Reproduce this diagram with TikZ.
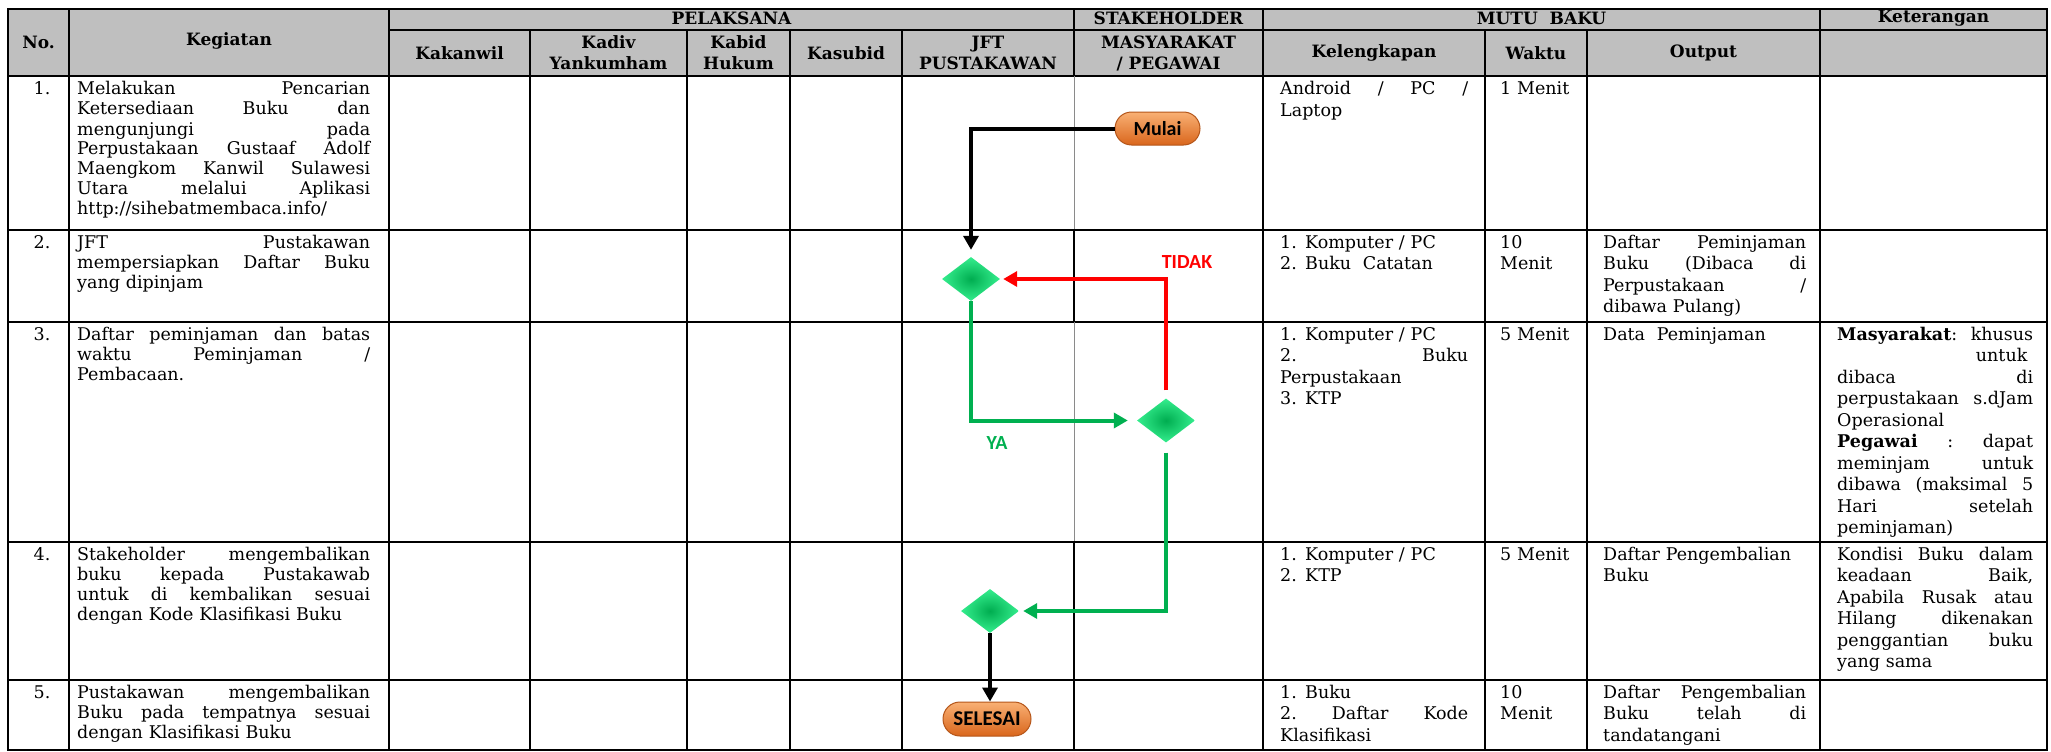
\documentclass[tikz,border=0pt]{standalone}
\usepackage{fontspec}
\setmainfont{DejaVu Serif}
\newfontfamily\flowfont{Carlito}
\usetikzlibrary{shapes.geometric,shapes.misc,arrows.meta}
\definecolor{hdrgray}{HTML}{BFBFBF}
\definecolor{flowgreen}{HTML}{00B050}
\definecolor{flowred}{HTML}{FF0000}
\definecolor{pilltop}{HTML}{F9B074}
\definecolor{pillbot}{HTML}{D9661C}
\definecolor{pillline}{HTML}{B5561A}
\definecolor{dmdin}{HTML}{00AD50}
\definecolor{dmdout}{HTML}{35EE8E}
\definecolor{thingray}{HTML}{8A8A8A}
\newcommand{\J}[1]{\makebox[\linewidth][s]{\spaceskip=0.3333em plus 1fil\xspaceskip=0.3333em plus 1fil\relax #1}}
\newcommand{\R}[1]{\makebox[\linewidth][r]{#1}}
\newcommand{\LN}[1]{\makebox[25pt][l]{#1}}
\begin{document}
\begin{tikzpicture}[x=1pt,y=-1pt,
  tbl/.style={line width=2.2pt,line cap=rect},
  thinl/.style={line width=0.9pt,draw=thingray},
  hdr/.style={font=\fontsize{17}{21}\selectfont\bfseries,align=center,inner sep=0pt},
  body/.style={font=\fontsize{17.5}{21.5}\selectfont,align=left,inner sep=0pt,anchor=base west},
  keg/.style={body,font=\fontsize{17.5}{20}\selectfont,text width=293pt},
  kel/.style={body,text width=188pt},
  wak/.style={body,text width=80pt},
  outp/.style={body,text width=203pt},
  ket/.style={body,text width=196pt},
  num/.style={font=\fontsize{17.5}{21}\selectfont,inner sep=0pt,anchor=base},
  pill/.style={rounded rectangle,draw=pillline,line width=1pt,top color=pilltop,bottom color=pillbot,inner sep=0pt,text=black,font=\flowfont\bfseries\fontsize{20}{20}\selectfont},
  dmd/.style={diamond,minimum width=58pt,minimum height=44pt,inner sep=0pt,shading=radial,inner color=dmdin,outer color=dmdout},
  flow/.style={line width=4pt,-{Triangle[length=14pt,width=15pt]}},
  lbl/.style={font=\flowfont\bfseries\fontsize{20}{20}\selectfont,inner sep=0pt}
]
\useasboundingbox (0,0) rectangle (2051,752);
\fill[white] (0,0) rectangle (2051,752);
\fill[hdrgray] (8,9) rectangle (2047,76);
% table lines
\foreach \y in {9,76,230,322,542,680,750} \draw[tbl] (8,\y) -- (2047,\y);
\draw[tbl] (389,30) -- (2047,30);
\foreach \x in {8,69,389,1263,1820,2047} \draw[tbl] (\x,9) -- (\x,750);
\foreach \x in {530,687,790,902,1485,1587} \draw[tbl] (\x,30) -- (\x,750);
\draw[tbl] (1074,9) -- (1074,76);
\draw[thinl] (1074,76) -- (1074,230);
\draw[tbl] (1074,230) -- (1074,322);
\draw[thinl] (1074,322) -- (1074,542);
\draw[tbl] (1074,542) -- (1074,750);
% header
\node[hdr] (hno) at (38.5,42) {No.};
\node[hdr] (hkeg) at (229,41) {Kegiatan};
\node[hdr] (hpel) at (731.5,18) {PELAKSANA};
\node[hdr] (hstk) at (1168.5,18) {STAKEHOLDER};
\node[hdr] (hmutu) at (1541.5,18) {MUTU\ \ BAKU};
\node[hdr] (hket) at (1933.5,18) {Keterangan};
\node[hdr] (hkak) at (459.5,53) {Kakanwil};
\node[hdr] (hkad) at (608.5,53) {Kadiv\\Yankumham};
\node[hdr] (hkab) at (738.5,53) {Kabid\\Hukum};
\node[hdr] (hkas) at (846,53) {Kasubid};
\node[hdr] (hjft) at (988,53) {JFT\\PUSTAKAWAN};
\node[hdr] (hmas) at (1168.5,53) {MASYARAKAT\\/ PEGAWAI};
\node[hdr] (hkel) at (1374,53) {Kelengkapan};
\node[hdr] (hwak) at (1536,53) {Waktu};
\node[hdr] (hout) at (1703.5,53) {Output};
% row 1
\node[num] (n1) at (42,95) {1.};
\node[keg] (k1) at (77,95) {\J{Melakukan Pencarian}\\\J{Ketersediaan Buku dan}\\\J{mengunjungi pada}\\\J{Perpustakaan Gustaaf Adolf}\\\J{Maengkom Kanwil Sulawesi}\\\J{Utara melalui Aplikasi}\\http://sihebatmembaca.info/};
\node[kel] (l1) at (1280,95) {\J{Android / PC /}\\Laptop};
\node[wak] (w1) at (1500,95) {1 Menit};
% row 2
\node[num] (n2) at (42,248) {2.};
\node[keg] (k2) at (77,248) {\J{JFT Pustakawan}\\\J{mempersiapkan Daftar Buku}\\yang dipinjam};
\node[kel] (l2) at (1280,248) {\LN{1.}Komputer / PC\\\LN{2.}Buku\ \ Catatan};
\node[wak] (w2) at (1500,248) {10\\Menit};
\node[outp] (o2) at (1603,248) {\J{Daftar Peminjaman}\\\J{Buku (Dibaca di}\\\J{Perpustakaan /}\\dibawa Pulang)};
% row 3
\node[num] (n3) at (42,340) {3.};
\node[keg] (k3) at (77,340) {\J{Daftar peminjaman dan batas}\\\J{waktu Peminjaman /}\\Pembacaan.};
\node[kel] (l3) at (1280,340) {\LN{1.}Komputer / PC\\\J{2. Buku}\\Perpustakaan\\\LN{3.}KTP};
\node[wak] (w3) at (1500,340) {5 Menit};
\node[outp] (o3) at (1603,340) {Data\ \ Peminjaman};
\node[ket] (t3) at (1837,340) {\J{\textbf{Masyarakat}: khusus}\\\R{untuk\ }\\\J{dibaca di}\\\J{perpustakaan s.dJam}\\Operasional\\\J{\textbf{Pegawai} : dapat}\\\J{meminjam untuk}\\\J{dibawa (maksimal 5}\\\J{Hari setelah}\\peminjaman)};
% row 4
\node[num] (n4) at (42,560) {4.};
\node[keg] (k4) at (77,560) {\J{Stakeholder mengembalikan}\\\J{buku kepada Pustakawab}\\\J{untuk di kembalikan sesuai}\\dengan Kode Klasifikasi Buku};
\node[kel] (l4) at (1280,560) {\LN{1.}Komputer / PC\\\LN{2.}KTP};
\node[wak] (w4) at (1500,560) {5 Menit};
\node[outp] (o4) at (1603,560) {Daftar Pengembalian\\Buku};
\node[ket] (t4) at (1837,560) {\J{Kondisi Buku dalam}\\\J{keadaan Baik,}\\\J{Apabila Rusak atau}\\\J{Hilang dikenakan}\\\J{penggantian buku}\\yang sama};
% row 5
\node[num] (n5) at (42,698) {5.};
\node[keg] (k5) at (77,698) {\J{Pustakawan mengembalikan}\\\J{Buku pada tempatnya sesuai}\\dengan Klasifikasi Buku};
\node[kel] (l5) at (1280,698) {\LN{1.}Buku\\\J{2. Daftar Kode}\\Klasifikasi};
\node[wak] (w5) at (1500,698) {10\\Menit};
\node[outp] (o5) at (1603,698) {\J{Daftar Pengembalian}\\\J{Buku telah di}\\tandatangani};
% flowchart
\node[pill,minimum width=85pt,minimum height=33pt] (mulai) at (1157.5,128.5) {Mulai};
\node[dmd] (d1) at (971,279) {};
\node[dmd] (d2) at (1166,420.5) {};
\node[dmd] (d3) at (990,611) {};
\node[pill,minimum width=88pt,minimum height=34pt,font=\flowfont\bfseries\fontsize{21}{21}\selectfont] (selesai) at (987,719) {SELESAI};
\draw[flow,shorten >=7pt] (mulai.west) -| (d1.north);
\draw[flow,flowred,shorten <=8pt,shorten >=3pt] (d2.north) |- (d1.east);
\draw[flow,flowgreen,shorten >=9pt] (d1.south) |- (d2.west);
\draw[flow,flowgreen,shorten <=10pt,shorten >=4pt] (d2.south) |- (d3.east);
\draw[flow] (d3.south) -- (d3.south |- selesai.north);
\node[lbl,text=flowred] (tidak) at (1187,262) {TIDAK};
\node[lbl,text=flowgreen] (ya) at (997,443) {YA};
\end{tikzpicture}
\end{document}
